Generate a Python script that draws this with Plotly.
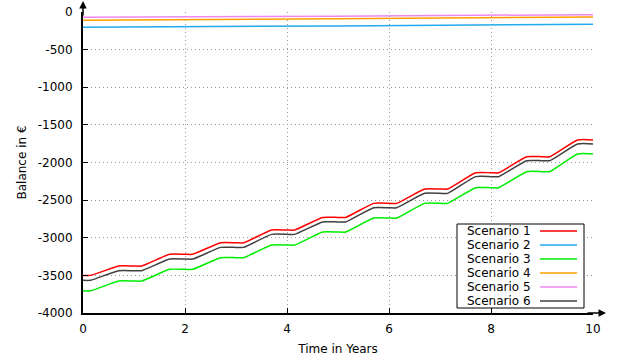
import plotly.graph_objects as go

# ---- data ----
years = [0, 1, 2, 3, 4, 5, 6, 7, 8, 9, 10]
scenario1 = [-3500, -3376, -3220, -3067, -2897, -2730, -2543, -2352, -2136, -1923, -1701]
scenario6 = [-3565, -3438, -3283, -3128, -2955, -2790, -2601, -2410, -2188, -1976, -1754]
scenario3 = [-3705, -3575, -3420, -3265, -3097, -2924, -2738, -2543, -2335, -2122, -1887]

line_years = [0, 5, 10]
scenario2 = [-203, -185, -163]
scenario4 = [-110, -90, -66]
scenario5 = [-70, -55, -35]

names = ["Scenario 1", "Scenario 2", "Scenario 3", "Scenario 4", "Scenario 5", "Scenario 6"]
colors = ["#ff0000", "#22aaee", "#00ee00", "#ffa000", "#ee88ee", "#404040"]

x_ticks = [0, 2, 4, 6, 8, 10]
x_ticktext = ["0", "2", "4", "6", "8", "10"]
y_ticks = [-4000, -3500, -3000, -2500, -2000, -1500, -1000, -500, 0]
y_ticktext = ["-4000", "-3500", "-3000", "-2500", "-2000", "-1500", "-1000", "-500", "0"]


def smooth_steps(xs, vs, before=0.3, after=0.15):
    """Yearly plateaus joined by smooth ramps (rendered with a spline)."""
    px, py = [], []
    for x, v in zip(xs, vs):
        a = max(x - before, xs[0])
        b = min(x + after, xs[-1])
        if a < x:
            px.append(a); py.append(v)
        px.append(x); py.append(v)
        if b > x:
            px.append(b); py.append(v)
    return px, py


fig = go.Figure()

series = {
    "Scenario 1": smooth_steps(years, scenario1),
    "Scenario 2": (line_years, scenario2),
    "Scenario 3": smooth_steps(years, scenario3),
    "Scenario 4": (line_years, scenario4),
    "Scenario 5": (line_years, scenario5),
    "Scenario 6": smooth_steps(years, scenario6),
}

order = ["Scenario 2", "Scenario 4", "Scenario 5", "Scenario 3", "Scenario 6", "Scenario 1"]
for nm in order:
    xs, ys = series[nm]
    c = colors[names.index(nm)]
    fig.add_trace(go.Scatter(
        x=xs, y=ys, mode="lines", name=nm,
        line=dict(color=c, width=1.5, shape="spline", smoothing=0.5),
        showlegend=False,
    ))

font = dict(family="DejaVu Sans", size=12, color="#000000")

# Plot-area geometry (px) used to place the hand-built gnuplot-style key
L, R, T, B = 83, 593, 12, 313
W, H = R - L, B - T


def px2x(p):
    return (p - L) / W


def px2y(p):
    return (B - p) / H


shapes = [dict(type="rect", xref="paper", yref="paper",
               x0=px2x(457), x1=px2x(584), y0=px2y(308), y1=px2y(224),
               line=dict(color="#000000", width=1), fillcolor="white", layer="above")]
annotations = []
for i, nm in enumerate(names):
    yc = px2y(231 + 14 * i)
    annotations.append(dict(xref="paper", yref="paper", x=px2x(533), y=yc,
                            text=nm, showarrow=False, xanchor="right", yanchor="middle",
                            font=dict(family="DejaVu Sans", size=12, color="#000000")))
    shapes.append(dict(type="line", xref="paper", yref="paper",
                       x0=px2x(540), x1=px2x(577), y0=yc, y1=yc,
                       line=dict(color=colors[i], width=1.5), layer="above"))

# axis arrows
annotations.append(dict(xref="paper", yref="paper", x=px2x(606), y=0, ax=-20, ay=0,
                        showarrow=True, arrowhead=2,
                        arrowsize=1, arrowwidth=1.5, arrowcolor="#000000", text=""))
annotations.append(dict(xref="paper", yref="paper", x=0, y=px2y(1), ax=0, ay=16,
                        showarrow=True, arrowhead=2, arrowsize=1, arrowwidth=1.5,
                        arrowcolor="#000000", text=""))

grid = dict(showgrid=True, gridcolor="#999999", griddash="1px,3px", gridwidth=1)

fig.update_layout(
    width=622, height=363,
    margin=dict(l=L, r=622 - R, t=T, b=363 - B, pad=0, autoexpand=False),
    paper_bgcolor="white", plot_bgcolor="white",
    font=font,
    showlegend=False,
    shapes=shapes,
    annotations=annotations,
    xaxis=dict(range=[0, 10], tickvals=x_ticks, ticktext=x_ticktext,
               showline=True, linecolor="#000000", linewidth=2,
               ticks="inside", ticklen=5, tickcolor="#000000", tickwidth=1,
               zeroline=False, ticklabelstandoff=4, automargin=False,
               title=dict(text="Time in Years", standoff=9, font=font), **grid),
    yaxis=dict(range=[-4000, 0], tickvals=y_ticks, ticktext=y_ticktext,
               showline=True, linecolor="#000000", linewidth=2,
               ticks="inside", ticklen=5, tickcolor="#000000", tickwidth=1,
               zeroline=False, ticklabelstandoff=6, automargin=False,
               title=dict(text="Balance in €", standoff=9, font=font), **grid),
)

fig.write_html("out.html")
